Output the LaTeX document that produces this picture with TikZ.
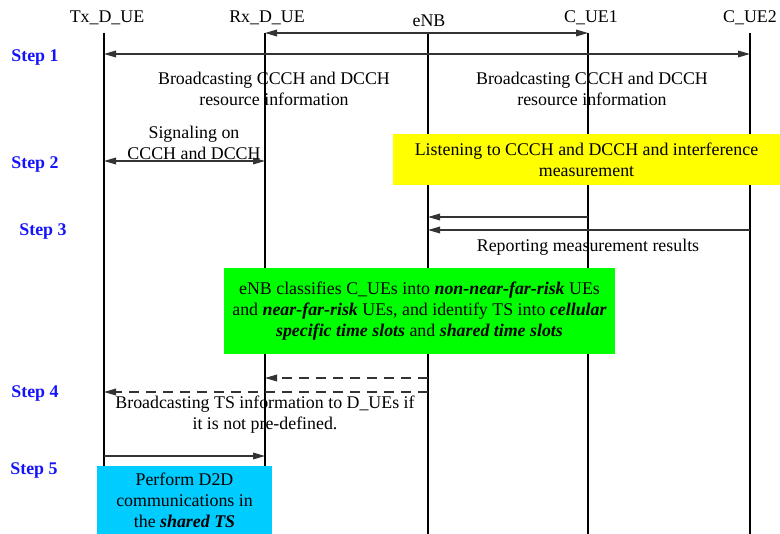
\documentclass[tikz,border=0pt]{standalone}
\usepackage{fontspec}
\setmainfont{Liberation Serif}
\usetikzlibrary{arrows.meta}

\definecolor{stepblue}{RGB}{20,20,250}
\definecolor{boxyellow}{RGB}{255,255,0}
\definecolor{boxgreen}{RGB}{0,255,0}
\definecolor{boxcyan}{RGB}{0,204,255}
\newcommand{\txtfont}{\fontsize{13.4}{15.75}\selectfont}

\tikzset{
  lifeline/.style={line width=1.4pt},
  msg/.style={line width=0.9pt, draw=black!80, -{Triangle[length=9pt,width=5pt]}},
  twoway/.style={line width=0.9pt, draw=black!80, {Triangle[length=9pt,width=5pt]}-{Triangle[length=9pt,width=5pt]}},
  dashmsg/.style={msg, dash pattern=on 7.5pt off 5.25pt},
  steplabel/.style={text=stepblue, font=\txtfont\bfseries},
  msgtext/.style={align=center, inner sep=0pt, font=\txtfont},
  notebox/.style={align=center, inner sep=0pt, font=\txtfont}
}

\begin{document}
\begin{tikzpicture}[x=0.75pt,y=-0.75pt]
\useasboundingbox (0,0) rectangle (780,534);

% Define coordinates
\coordinate (tx)   at (104,33);   % Tx_D_UE
\coordinate (rx)   at (265,33);   % Rx_D_UE
\coordinate (enb)  at (428,33);   % eNB
\coordinate (cue1) at (588,33);   % C_UE1
\coordinate (cue2) at (750,33);   % C_UE2
\coordinate (bottom) at (0,534);
% message rows
\coordinate (r1) at (0,33);
\coordinate (r2) at (0,54);
\coordinate (r3) at (0,161);
\coordinate (r4) at (0,217);
\coordinate (r5) at (0,230);
\coordinate (r6) at (0,378);
\coordinate (r7) at (0,392);
\coordinate (r8) at (0,456);

% Entity names
\node[font=\txtfont] (txname)   at (107,18) {Tx\_D\_UE};
\node[font=\txtfont] (rxname)   at (267,18) {Rx\_D\_UE};
\node[font=\txtfont] (enbname)  at (429,21) {eNB};
\node[font=\txtfont] (cue1name) at (591,18) {C\_UE1};
\node[font=\txtfont] (cue2name) at (750,18) {C\_UE2};

% Lifelines
\draw[lifeline] (tx) -- (tx |- bottom);
\draw[lifeline] (rx) -- (rx |- bottom);
\draw[lifeline] (enb) -- (enb |- bottom);
\draw[lifeline] (cue1) -- (cue1 |- bottom);
\draw[lifeline] (cue2) -- (cue2 |- bottom);

% Step labels
\node[steplabel] (s1) at (35,57)  {Step 1};
\node[steplabel] (s2) at (35,164) {Step 2};
\node[steplabel] (s3) at (43,231) {Step 3};
\node[steplabel] (s4) at (35,393) {Step 4};
\node[steplabel] (s5) at (34,470) {Step 5};

% Step 1: broadcasting
\draw[twoway] (rx |- r1) -- (cue1 |- r1);
\draw[twoway] (tx |- r2) -- (cue2 |- r2);
\node[msgtext] (bc1) at (274,88.5) {Broadcasting CCCH and DCCH\\resource information};
\node[msgtext] (bc2) at (592,88.5) {Broadcasting CCCH and DCCH\\resource information};

% Step 2: signaling and listening
\draw[twoway] (tx |- r3) -- (rx |- r3);
\node[msgtext] (sig) at (194,142.5) {Signaling on\\CCCH and DCCH};
\node[notebox, fill=boxyellow, minimum width=290.25pt, minimum height=38.25pt] (listen) at (586.5,159.5)
  {Listening to CCCH and DCCH and interference\\measurement};

% Step 3: reporting
\draw[msg] (cue1 |- r4) -- (enb |- r4);
\draw[msg] (cue2 |- r5) -- (enb |- r5);
\node[msgtext] (report) at (588,247) {Reporting measurement results};

% eNB classification
\node[notebox, fill=boxgreen, minimum width=293.25pt, minimum height=64.5pt] (classify) at (419.5,311)
  {eNB classifies C\_UEs into \textbf{\textit{non-near-far-risk}} UEs\\
   and \textbf{\textit{near-far-risk}} UEs, and identify TS into \textbf{\textit{cellular}}\\
   \textbf{\textit{specific time slots}} and \textbf{\textit{shared time slots}}};

% Step 4: TS information
\draw[dashmsg] (enb |- r6) -- (rx |- r6);
\draw[dashmsg] (enb |- r7) -- (tx |- r7);
\node[msgtext] (tsinfo) at (265,414.5) {Broadcasting TS information to D\_UEs if\\it is not pre-defined.};

% Step 5: D2D
\draw[msg] (tx |- r8) -- (rx |- r8);
\node[notebox, fill=boxcyan, minimum width=131.25pt, minimum height=51pt] (d2d) at (184.5,500)
  {Perform D2D\\communications in\\the \textbf{\textit{shared TS}}};

\end{tikzpicture}
\end{document}
